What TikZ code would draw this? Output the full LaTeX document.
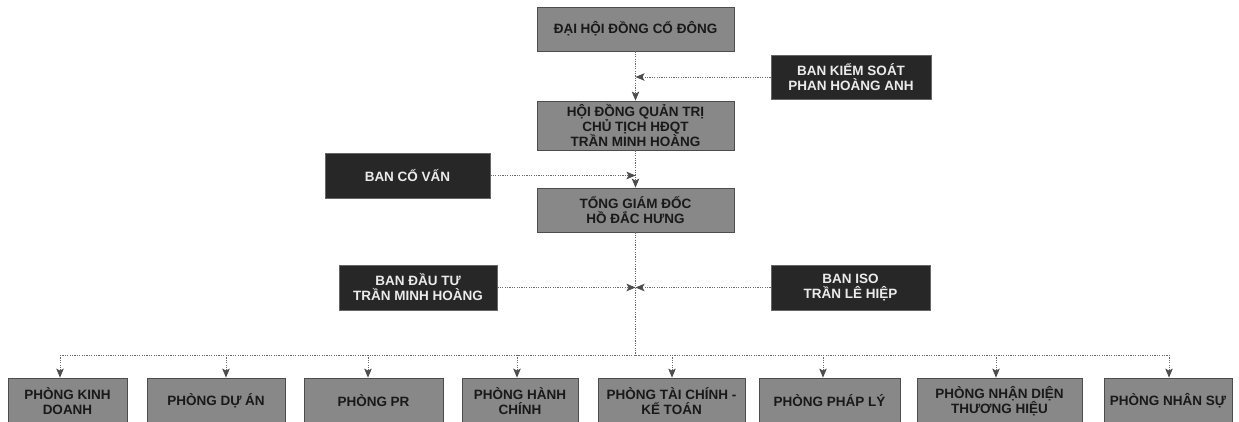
\documentclass[tikz,border=0pt]{standalone}
\usepackage{fontspec}
\setmainfont{Liberation Sans}
\usepackage{tikz}
\usetikzlibrary{arrows.meta}
\usetikzlibrary{positioning}

\definecolor{unitgray}{HTML}{888888}
\definecolor{boarddark}{HTML}{272727}
\definecolor{linkgray}{HTML}{6A6A6A}

\begin{document}
\begin{tikzpicture}
			[
			x=1pt,y=-1pt,
			font=\fontsize{13.5}{15}\selectfont\bfseries,
			>={Stealth[length=9pt,width=7.5pt,inset=2pt,color=black!70]}
			]
			
			% Two box styles: grey units and dark boards
			\tikzstyle{unit box}=[draw=black!70,line width=0.8pt,fill=unitgray,text=black!90,align=center,inner sep=0];
			\tikzstyle{board box}=[draw=black!60,line width=0.8pt,fill=boarddark,text=white!92!black,align=center,inner sep=0];
			\tikzstyle{link}=[draw=linkgray,line width=0.8pt,dash pattern=on 1.2pt off 1.2pt];
			
			\useasboundingbox (0,0) rectangle (1239,421);
			
			% Main line
			\node(dhcd)[unit box,minimum width=197pt,minimum height=44pt]at(635.5,29){ĐẠI HỘI ĐỒNG CỔ ĐÔNG};
			\node(hdqt)[unit box,minimum width=197pt,minimum height=49pt]at(635.5,125.5){HỘI ĐỒNG QUẢN TRỊ\\CHỦ TỊCH HĐQT\\TRẦN MINH HOÀNG};
			\node(tgd)[unit box,minimum width=197pt,minimum height=44pt]at(635.5,210){TỔNG GIÁM ĐỐC\\HỒ ĐẮC HƯNG};
			
			% Boards beside the main line
			\node(ks)[board box,minimum width=160pt,minimum height=44pt]at(851,77){BAN KIỂM SOÁT\\PHAN HOÀNG ANH};
			\node(covan)[board box,minimum width=165pt,minimum height=45pt]at(407.5,175.5){BAN CỐ VẤN};
			\node(dautu)[board box,minimum width=158pt,minimum height=45pt]at(418,287.5){BAN ĐẦU TƯ\\TRẦN MINH HOÀNG};
			\node(iso)[board box,minimum width=159pt,minimum height=45pt]at(850.5,287.5){BAN ISO\\TRẦN LÊ HIỆP};
			
			% Departments
			\foreach \name/\x/\w/\txt in {
				k1/67.5/119/{PHÒNG KINH\\DOANH},
				k2/216/138/{PHÒNG DỰ ÁN},
				k3/373.5/139/{PHÒNG PR},
				k4/520/116/{PHÒNG HÀNH\\CHÍNH},
				k5/671.5/147/{PHÒNG TÀI CHÍNH -\\KẾ TOÁN},
				k6/829.5/141/{PHÒNG PHÁP LÝ},
				k7/999.5/165/{PHÒNG NHẬN DIỆN\\THƯƠNG HIỆU},
				k8/1168/128/{PHÒNG NHÂN SỰ}}
				\node(\name)[unit box,minimum width=\w pt,minimum height=46pt]at(\x,401){\txt};
			
			% Bus above the departments
			\foreach \name/\x in {1/60,2/226,3/368,4/517,5/672,6/823,7/996,8/1169}
				\coordinate(b\name)at(\x,355);
			
			% Links
			\draw[link,->](dhcd)--(hdqt);
			\draw[link,->](ks.west)--(dhcd.south|-ks.west);
			\draw[link,->](hdqt)--(tgd);
			\draw[link,->](covan.east)--(hdqt.south|-covan.east);
			\draw[link](tgd.south)--(tgd.south|-b1);
			\draw[link,->](dautu.east)--(tgd.south|-dautu.east);
			\draw[link,->](iso.west)--(tgd.south|-iso.west);
			\draw[link](b1)--(b8);
			\foreach \x in {1,...,8}
				\draw[link,->](b\x)--(b\x|-k\x.north);
			\end{tikzpicture}
\end{document}
